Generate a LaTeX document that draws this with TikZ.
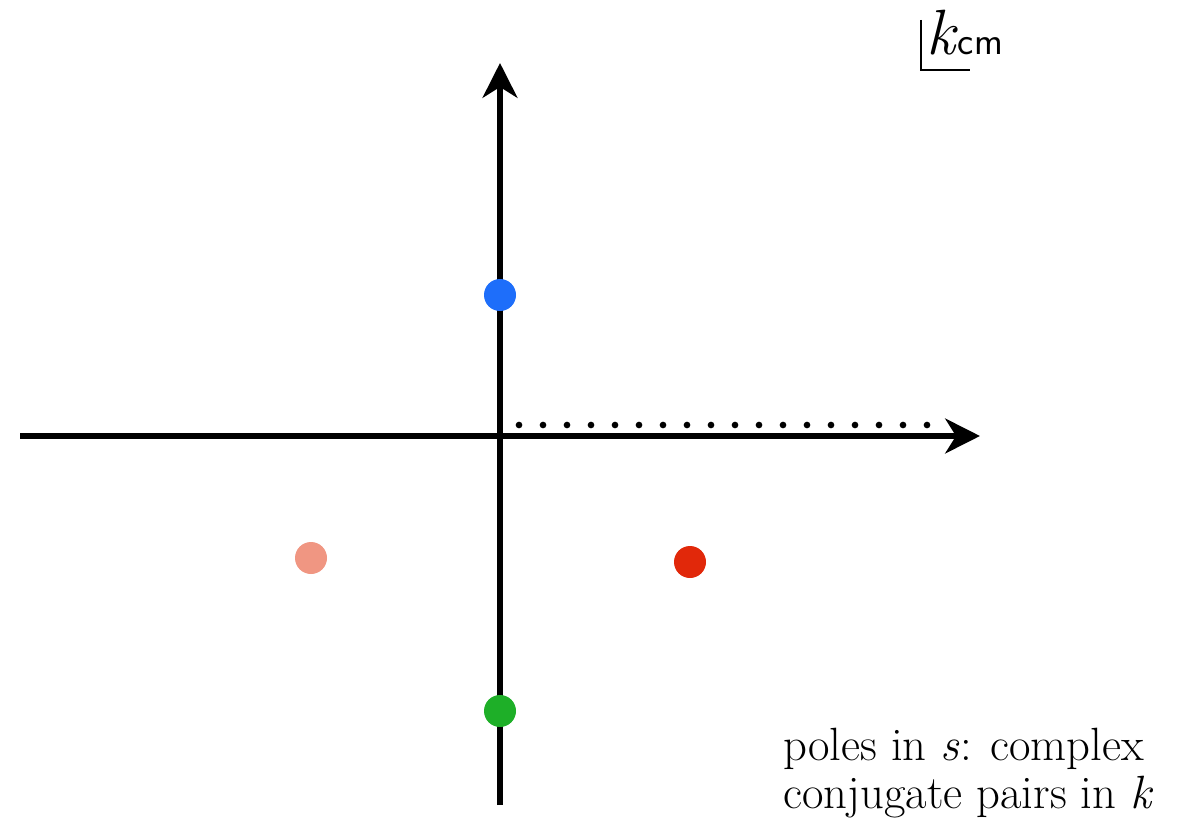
\documentclass[tikz,border=0pt]{standalone}
\usepackage{fontspec}
\usetikzlibrary{arrows.meta}
\definecolor{poleblue}{RGB}{30,110,250}
\definecolor{polesalmon}{RGB}{240,150,130}
\definecolor{polered}{RGB}{225,40,10}
\definecolor{polegreen}{RGB}{30,175,40}
\tikzset{
  axis/.style={line width=4.5pt, -{Stealth[length=26pt,width=26pt,inset=8pt]}},
  pole/.style={circle, minimum size=24pt, inner sep=0pt, fill=#1},
  dotline/.style={line width=5pt, line cap=round, dash pattern=on 0pt off 18pt},
}
\begin{document}
\begin{tikzpicture}[x=0.75pt,y=-0.75pt]
\useasboundingbox (0,0) rectangle (1178,820);
\coordinate (xl) at (20,436);
\coordinate (xr) at (980,436);
\coordinate (yb) at (500,805);
\coordinate (yt) at (500,63);
\coordinate (ds) at (519,425);
\coordinate (de) at (930,425);
\draw[dotline] (ds) -- (de);
\draw[axis] (xl) -- (xr);
\draw[axis] (yb) -- (yt);
\node[pole=poleblue] (pb) at (500,295) {};
\node[pole=polesalmon] (ps) at (311,558) {};
\node[pole=polered] (pr) at (690,562) {};
\node[pole=polegreen] (pg) at (500,711) {};
% label
\coordinate (la) at (921,20);
\coordinate (lb) at (921,70);
\coordinate (lc) at (970,70);
\draw[line width=1.3pt] (la) -- (lb) -- (lc);
\node[anchor=base west, inner sep=0pt] (kcm) at (926,55) {\fontsize{48}{50}\selectfont\textit{k}\fontsize{29}{32}\selectfont\sffamily cm};
\node[anchor=base west, inner sep=0pt, align=left, font={\fontsize{35}{36}\selectfont}] (txt) at (783,808) {poles in \textit{s}: complex\\ conjugate pairs in \textit{k}};
\end{tikzpicture}
\end{document}
